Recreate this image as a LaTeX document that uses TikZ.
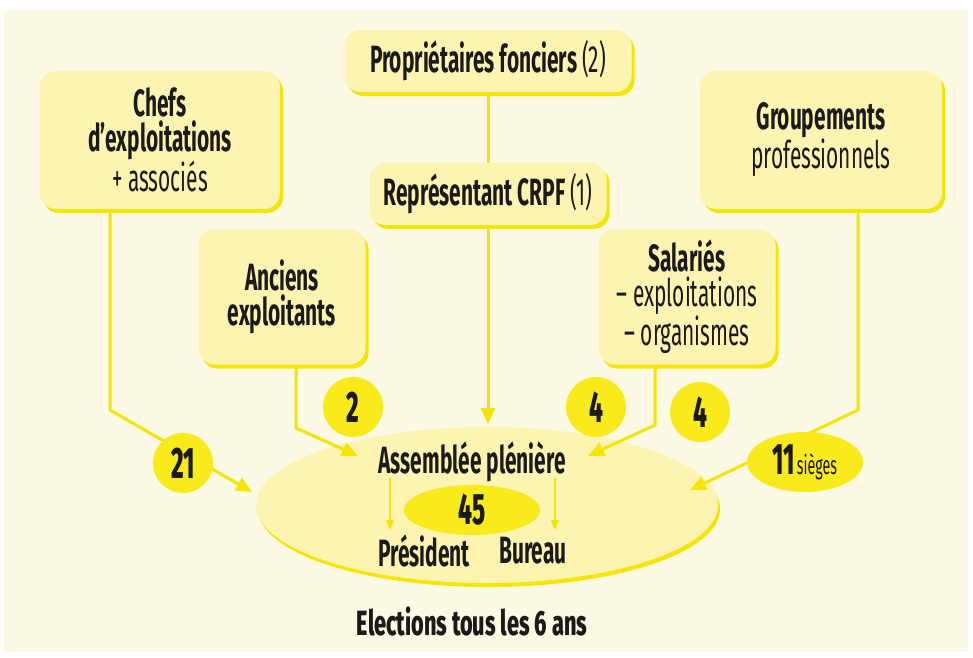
\documentclass[tikz,border=0pt]{standalone}
\usepackage{fontspec}
\setmainfont{Fira Sans}[FakeStretch=0.55]
\newfontfamily\heavyf{Fira Sans ExtraBold}[FakeStretch=0.55]
\newfontfamily\heavyw{Fira Sans ExtraBold}[FakeStretch=0.62]
\usetikzlibrary{arrows.meta,shadows,shapes.geometric}
\definecolor{bg}{HTML}{FCFAE4}
\definecolor{boxf}{HTML}{FEF4B2}
\definecolor{yel}{HTML}{F5E500}
\definecolor{circ}{HTML}{F9EA1C}
\definecolor{ink}{HTML}{1A1A1A}
\tikzset{
  box/.style={rounded corners=16pt, fill=boxf, align=center, text=ink, inner sep=0pt,
    drop shadow={shadow xshift=3pt, shadow yshift=-4pt, fill=yel, opacity=1}},
  big/.style={font=\bfseries\fontsize{38}{35}\selectfont},
  conn/.style={draw=yel, line width=3pt, -{Triangle[length=16pt,width=14pt]}},
  plain/.style={draw=yel, line width=3pt},
  thin/.style={draw=yel, line width=1.6pt, -{Triangle[length=10pt,width=8pt]}},
  num/.style={circle, fill=circ, minimum size=60pt, inner sep=0pt, text=ink, font=\heavyf\fontsize{44}{44}\selectfont},
}
\begin{document}
\begin{tikzpicture}[x=1pt,y=-1pt]
\useasboundingbox (0,0) rectangle (973,657);
\fill[white] (0,0) rectangle (973,657);
\fill[bg] (4,10) rectangle (968,652);

% boxes
\node[box, minimum width=287pt, minimum height=62pt, big] (prop) at (488,61) {Propriétaires fonciers {\mdseries(2)}};
\node[box, minimum width=237pt, minimum height=62pt, big] (crpf) at (488,194) {Représentant CRPF {\mdseries(1)}};
\node[box, minimum width=240pt, minimum height=138pt, big] (chefs) at (160,140) {Chefs\\d'exploitations\\{\mdseries + associés}};
\node[box, minimum width=242pt, minimum height=138pt, big] (grp) at (821,140) {Groupements\\{\mdseries professionnels}};
\node[box, minimum width=167pt, minimum height=135pt, big] (anc) at (282,297) {Anciens\\exploitants};
\node[box, minimum width=177pt, minimum height=135pt, big] (sal) at (687,297) {Salariés\\{\mdseries -- exploitations}\\{\mdseries -- organismes}};

% assembly ellipse
\node[ellipse, fill=boxf, minimum width=462pt, minimum height=156pt, inner sep=0pt,
  drop shadow={shadow xshift=2pt, shadow yshift=-4pt, fill=yel, opacity=1}] (ass) at (487,505) {};
\node[ellipse, fill=circ, minimum width=136pt, minimum height=50pt, inner sep=0pt, text=ink,
  font=\heavyf\fontsize{44}{44}\selectfont] (n45) at (472,510) {45};
\node[big, text=ink] (asst) at (472,462) {Assemblée plénière};
\node[big, text=ink] (pres) at (424,551) {Président};
\node[big, text=ink] (bur) at (533,551) {Bureau};
\coordinate (pa) at (390,478); \coordinate (pb) at (390,530);
\coordinate (ba) at (555,478); \coordinate (bb) at (555,530);
\draw[thin] (pa) -- (pb);
\draw[thin] (ba) -- (bb);

% connectors
\draw[plain] (prop) -- (crpf);
\coordinate (e0) at (488,424);
\draw[conn] (crpf.south) -- (e0);

\coordinate (c1) at (110,410); \coordinate (e1) at (252,492);
\draw[conn] (chefs.south -| c1) -- (c1) -- (e1);
\coordinate (a1) at (296,428); \coordinate (e2) at (358,456);
\draw[conn] (anc.south -| a1) -- (a1) -- (e2);
\coordinate (s1) at (655,425); \coordinate (e3) at (588,456);
\draw[conn] (sal.south -| s1) -- (s1) -- (e3);
\coordinate (g1) at (858,410); \coordinate (e4) at (690,490);
\draw[conn] (grp.south -| g1) -- (g1) -- (e4);

% numbers
\node[num] (n21) at (183,463) {21};
\node[num] (n2) at (353,407) {2};
\node[num] (n4a) at (596,407) {4};
\node[num] (n4b) at (700,412) {4};
\node[ellipse, fill=circ, minimum width=116pt, minimum height=60pt, inner sep=0pt, text=ink] (n11) at (805,462)
  {{\heavyf\fontsize{44}{44}\selectfont 11}\,{\fontsize{26}{26}\selectfont sièges}};

\node[text=ink, font=\heavyw\fontsize{35}{35}\selectfont] (el) at (472,621) {Elections tous les 6 ans};
\end{tikzpicture}
\end{document}
